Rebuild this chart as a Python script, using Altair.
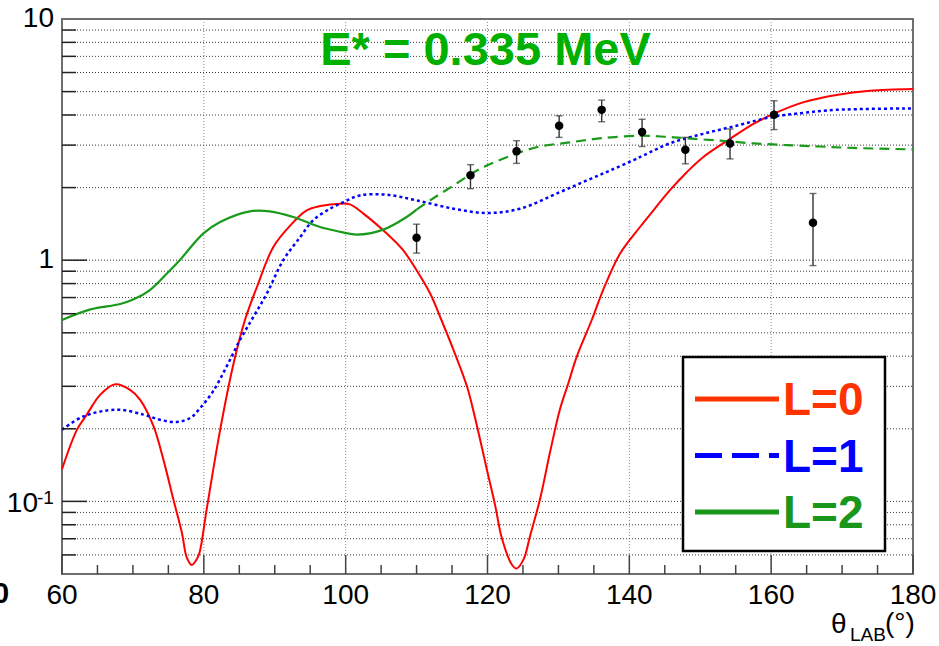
import altair as alt
import pandas as pd

FONT = "Liberation Sans"

# ---- annotation -----------------------------------------------------------
title_text = ["E* = 0.335 MeV"]

# ---- measured angular distribution (value, lower and upper error limits) --
exp_theta = [110.0, 117.6, 124.1, 130.1, 136.1, 141.8, 147.9, 154.2, 160.4, 165.9]
exp_sigma = [1.24, 2.25, 2.83, 3.61, 4.20, 3.40, 2.87, 3.05, 4.01, 1.43]
exp_low = [1.07, 1.98, 2.52, 3.23, 3.75, 2.96, 2.51, 2.63, 3.48, 0.95]
exp_high = [1.41, 2.49, 3.13, 3.97, 4.61, 3.84, 3.23, 3.50, 4.58, 1.89]

# ---- DWBA-type calculations for the three transferred L ------------------
l0_theta = [60.0, 62.1, 63.5, 65.4, 67.5, 69.6, 71.0, 72.9, 74.3, 75.7, 76.9, 77.6,
            78.3, 79.0, 79.4, 80.4, 82.3, 84.2, 85.8, 87.5, 89.8, 92.2, 94.5, 96.4,
            99.2, 100.6, 102.5, 105.8, 108.1, 110.0, 111.9, 113.5, 115.2, 117.1,
            118.2, 119.9, 121.1, 122.0, 123.4, 124.1, 125.1, 126.0, 127.4, 128.8,
            130.2, 131.4, 132.6, 134.7, 136.3, 138.7, 141.5, 143.4, 145.7, 148.1,
            150.4, 154.2, 157.5, 160.3, 164.5, 169.2, 173.9, 180.0]
l0_sigma = [0.136, 0.198, 0.229, 0.277, 0.306, 0.290, 0.264, 0.205, 0.149, 0.102,
            0.0743, 0.0585, 0.0545, 0.0576, 0.0614, 0.0927, 0.198, 0.374, 0.565,
            0.776, 1.135, 1.395, 1.609, 1.676, 1.715, 1.703, 1.56, 1.289, 1.10,
            0.909, 0.729, 0.565, 0.425, 0.300, 0.225, 0.136, 0.0956, 0.0708,
            0.0549, 0.0527, 0.0576, 0.0719, 0.102, 0.159, 0.240, 0.309, 0.399,
            0.565, 0.752, 1.066, 1.373, 1.609, 1.946, 2.317, 2.673, 3.184, 3.672,
            4.04, 4.51, 4.84, 5.04, 5.12]

l1_theta = [60.0, 63.0, 67.7, 71.5, 73.8, 76.2, 78.1, 79.5, 81.3, 83.2, 85.1, 87.0,
            88.9, 91.2, 93.6, 95.4, 97.8, 99.7, 102.0, 105.8, 110.0, 115.2, 119.9,
            124.6, 130.2, 134.0, 137.3, 140.6, 142.0, 145.7, 150.4, 155.1, 159.8,
            164.5, 169.2, 180.0]
l1_sigma = [0.198, 0.225, 0.240, 0.229, 0.218, 0.2135, 0.222, 0.244, 0.286, 0.362,
            0.467, 0.583, 0.729, 1.0, 1.248, 1.463, 1.635, 1.741, 1.856, 1.868,
            1.77, 1.635, 1.569, 1.635, 1.915, 2.141, 2.355, 2.60, 2.72, 3.05, 3.34,
            3.61, 3.91, 4.08, 4.20, 4.26]

l2_theta = [60.0, 64.0, 68.2, 70.1, 72.4, 74.8, 76.6, 79.9, 82.3, 86.5, 89.3, 92.6,
            96.4, 98.7, 101.6, 105.3, 108.6, 110.0, 111.9, 115.2, 118.9, 122.7,
            126.9, 131.6, 136.3, 141.5, 145.0, 148.1, 152.8, 157.5, 162.2, 166.9,
            171.6, 180.0]
l2_sigma = [0.565, 0.625, 0.658, 0.688, 0.752, 0.881, 1.0, 1.289, 1.44, 1.594,
            1.594, 1.51, 1.373, 1.322, 1.277, 1.339, 1.51, 1.62, 1.77, 2.04, 2.39,
            2.67, 2.94, 3.08, 3.21, 3.28, 3.25, 3.20, 3.13, 3.05, 3.00, 2.96, 2.92,
            2.88]
L2_DASH_FROM = 110.0  # the L=2 curve switches from solid to dashed here

# ---- legend ---------------------------------------------------------------
legend_labels = ["L=0", "L=1", "L=2"]
legend_colors = ["#ff3300", "#0000ff", "#1a961a"]

# ---- axes -----------------------------------------------------------------
x_label_vals = [60, 80, 100, 120, 140, 160, 180]
x_grid_vals = [80, 100, 120, 140, 160]
x_major_ticks = [60, 80, 100, 120, 140, 160, 180]
x_minor_ticks = [v for v in range(60, 181, 5) if v % 20 != 0]
y_major_ticks = [0.1, 1.0]
y_minor_ticks = [0.06, 0.07, 0.08, 0.09, 0.2, 0.3, 0.4, 0.5, 0.6, 0.7, 0.8, 0.9,
                 2, 3, 4, 5, 6, 7, 8, 9]
y_grid_vals = sorted(y_major_ticks + y_minor_ticks)
y_label_vals = [10, 1]
y_label_text = ["10", "1"]

W, H = 851, 555
xs = alt.Scale(domain=[60, 180], nice=False, zero=False)
ys = alt.Scale(type="log", domain=[0.05, 10], nice=False)
CURVE = "catmull-rom"

df0 = pd.DataFrame({"theta": l0_theta, "sigma": l0_sigma})
df1 = pd.DataFrame({"theta": l1_theta, "sigma": l1_sigma})
df2 = pd.DataFrame({"theta": l2_theta, "sigma": l2_sigma})
df2_solid = df2[df2.theta <= L2_DASH_FROM]
df2_dash = df2[df2.theta >= L2_DASH_FROM]
dfe = pd.DataFrame({"theta": exp_theta, "sigma": exp_sigma,
                    "lo": exp_low, "hi": exp_high})


def X(field="theta"):
    return alt.X(f"{field}:Q", scale=xs, axis=None)


def Y(field="sigma"):
    return alt.Y(f"{field}:Q", scale=ys, axis=None)


# dotted grid
x_grid = alt.Chart(pd.DataFrame({"g": x_grid_vals})).mark_rule(
    color="#8a8a8a", strokeWidth=1, strokeDash=[1, 2]).encode(
    x=X("g"), y=alt.value(0), y2=alt.value(H))
y_grid = alt.Chart(pd.DataFrame({"g": y_grid_vals})).mark_rule(
    color="#3c3c3c", strokeWidth=1, strokeDash=[1, 2]).encode(
    y=Y("g"), x=alt.value(0), x2=alt.value(W))

# curves
red = alt.Chart(df0).mark_line(color="#ff0000", strokeWidth=2, interpolate=CURVE).encode(
    x=X(), y=Y())
blue = alt.Chart(df1).mark_line(color="#0000ff", strokeWidth=2.5, strokeDash=[3, 3],
                                interpolate=CURVE).encode(x=X(), y=Y())
green_solid = alt.Chart(df2_solid).mark_line(color="#1a9a1a", strokeWidth=2.2,
                                             interpolate=CURVE).encode(x=X(), y=Y())
green_dash = alt.Chart(df2_dash).mark_line(color="#1a9a1a", strokeWidth=2.2, strokeDash=[10, 6],
                                           interpolate=CURVE).encode(x=X(), y=Y())

# data points with error bars
err = alt.Chart(dfe).mark_rule(color="#333333", strokeWidth=1.4).encode(
    x=X(), y=Y("lo"), y2="hi:Q")
cap_lo = alt.Chart(dfe).mark_tick(orient="horizontal", color="#333333", size=7,
                                  thickness=1.4).encode(x=X(), y=Y("lo"))
cap_hi = alt.Chart(dfe).mark_tick(orient="horizontal", color="#333333", size=7,
                                  thickness=1.4).encode(x=X(), y=Y("hi"))
pts = alt.Chart(dfe).mark_circle(color="black", opacity=1, size=72).encode(x=X(), y=Y())

# inward ticks on the bottom and left edges
xt_major = alt.Chart(pd.DataFrame({"t": x_major_ticks})).mark_rule(
    color="#444444", strokeWidth=1.5).encode(x=X("t"), y=alt.value(H), y2=alt.value(H - 19))
xt_minor = alt.Chart(pd.DataFrame({"t": x_minor_ticks})).mark_rule(
    color="#444444", strokeWidth=1.5).encode(x=X("t"), y=alt.value(H), y2=alt.value(H - 9))
yt_major = alt.Chart(pd.DataFrame({"t": y_major_ticks})).mark_rule(
    color="#222222", strokeWidth=1.5).encode(y=Y("t"), x=alt.value(0), x2=alt.value(25))
yt_minor = alt.Chart(pd.DataFrame({"t": y_minor_ticks})).mark_rule(
    color="#222222", strokeWidth=1.5).encode(y=Y("t"), x=alt.value(0), x2=alt.value(14))

# tick labels
x_labels = alt.Chart(pd.DataFrame({"v": x_label_vals, "t": [str(v) for v in x_label_vals]})).mark_text(
    font=FONT, fontSize=28, align="center", baseline="alphabetic", color="black").encode(
    x=X("v"), y=alt.value(H + 30), text="t:N")
y_labels = alt.Chart(pd.DataFrame({"v": y_label_vals, "t": y_label_text})).mark_text(
    font=FONT, fontSize=28, align="right", baseline="middle", color="black").encode(
    y=Y("v"), x=alt.value(-8), text="t:N")
y_dec = pd.DataFrame({"v": [0.1], "base": ["10"], "exp": ["-1"]})
y_label_base = alt.Chart(y_dec).mark_text(
    font=FONT, fontSize=28, align="right", baseline="middle", dy=3, color="black").encode(
    y=Y("v"), x=alt.value(-24), text="base:N")
y_label_exp = alt.Chart(y_dec).mark_text(
    font=FONT, fontSize=19, align="left", baseline="alphabetic", dy=3, color="black").encode(
    y=Y("v"), x=alt.value(-25), text="exp:N")
stray = alt.Chart(pd.DataFrame({"t": ["0"]})).mark_text(
    font=FONT, fontSize=29, fontWeight="bold", align="center", baseline="alphabetic",
    color="black").encode(x=alt.value(-61), y=alt.value(H + 29), text="t:N")

# x-axis title: theta with LAB subscript, then the unit
xt_parts = [("θ", 769, H + 59, 28), ("LAB", 788, H + 67, 19), ("(°)", 823, H + 58, 28)]
x_title = [alt.Chart(pd.DataFrame({"t": [s]})).mark_text(
    font=FONT, fontSize=fs, align="left", baseline="alphabetic", color="black").encode(
    x=alt.value(px), y=alt.value(py), text="t:N") for s, px, py, fs in xt_parts]

# plot title
title = alt.Chart(pd.DataFrame({"t": title_text})).mark_text(
    font=FONT, fontSize=47, fontWeight="bold", align="center", baseline="alphabetic",
    color="#00b000").encode(x=alt.value(423.5), y=alt.value(46), text="t:N")

# legend box
box = alt.Chart(pd.DataFrame({"k": [0]})).mark_rect(
    fill="white", stroke="black", strokeWidth=2.5).encode(
    x=alt.value(621), x2=alt.value(823), y=alt.value(338), y2=alt.value(532))
legend_layers = []
for i, (lab, col) in enumerate(zip(legend_labels, legend_colors)):
    ly = 380 + i * 56.5
    line_kw = dict(color=col, strokeWidth=5)
    if lab == "L=1":
        line_kw["strokeDash"] = [27, 10]
    d = pd.DataFrame({"t": [lab]})
    legend_layers.append(alt.Chart(d).mark_rule(**line_kw).encode(
        x=alt.value(633), x2=alt.value(717), y=alt.value(ly)))
    legend_layers.append(alt.Chart(d).mark_text(
        font=FONT, fontSize=46, fontWeight="bold", align="left", baseline="alphabetic",
        color=col).encode(x=alt.value(721), y=alt.value(ly + 16), text="t:N"))

chart = alt.layer(
    x_grid, y_grid,
    red, blue, green_solid, green_dash,
    xt_major, xt_minor, yt_major, yt_minor,
    err, cap_lo, cap_hi, pts,
    title, box, *legend_layers,
    x_labels, y_labels, y_label_base, y_label_exp, stray, *x_title,
).properties(
    width=W, height=H,
    autosize=alt.AutoSizeParams(type="none"),
    padding={"left": 62, "top": 19, "right": 26, "bottom": 72},
    background="white",
).configure_view(stroke="#6e6e6e", strokeWidth=2)

chart.save("out.html", embed_options={"renderer": "svg", "actions": False})
